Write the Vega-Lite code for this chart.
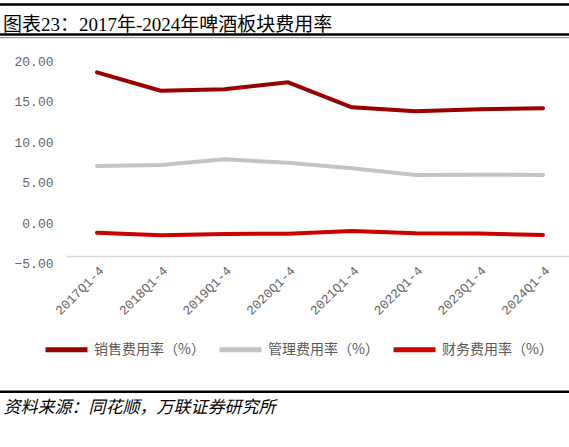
{
  "$schema": "https://vega.github.io/schema/vega-lite/v6.json",
  "autosize": "none",
  "width": 503,
  "height": 202.5,
  "padding": {"left": 66, "top": 61, "right": 0, "bottom": 183.5},
  "background": "white",
  "config": {"view": {"stroke": null}},
  "title": {
    "text": "图表23：2017年-2024年啤酒板块费用率",
    "anchor": "start",
    "frame": "group",
    "dx": -63,
    "offset": 0,
    "dy": 31.5,
    "font": "Liberation Serif, Noto Sans CJK SC",
    "fontSize": 19,
    "fontWeight": "normal",
    "color": "#000000"
  },
  "data": {
    "values": [
      {"period": "2017Q1-4", "series": "销售费用率（%）", "value": 18.6},
      {"period": "2018Q1-4", "series": "销售费用率（%）", "value": 16.33},
      {"period": "2019Q1-4", "series": "销售费用率（%）", "value": 16.5},
      {"period": "2020Q1-4", "series": "销售费用率（%）", "value": 17.37},
      {"period": "2021Q1-4", "series": "销售费用率（%）", "value": 14.28},
      {"period": "2022Q1-4", "series": "销售费用率（%）", "value": 13.79},
      {"period": "2023Q1-4", "series": "销售费用率（%）", "value": 14.04},
      {"period": "2024Q1-4", "series": "销售费用率（%）", "value": 14.16},
      {"period": "2017Q1-4", "series": "管理费用率（%）", "value": 7.04},
      {"period": "2018Q1-4", "series": "管理费用率（%）", "value": 7.16},
      {"period": "2019Q1-4", "series": "管理费用率（%）", "value": 7.86},
      {"period": "2020Q1-4", "series": "管理费用率（%）", "value": 7.44},
      {"period": "2021Q1-4", "series": "管理费用率（%）", "value": 6.75},
      {"period": "2022Q1-4", "series": "管理费用率（%）", "value": 5.93},
      {"period": "2023Q1-4", "series": "管理费用率（%）", "value": 5.97},
      {"period": "2024Q1-4", "series": "管理费用率（%）", "value": 5.93},
      {"period": "2017Q1-4", "series": "财务费用率（%）", "value": -1.2},
      {"period": "2018Q1-4", "series": "财务费用率（%）", "value": -1.52},
      {"period": "2019Q1-4", "series": "财务费用率（%）", "value": -1.36},
      {"period": "2020Q1-4", "series": "财务费用率（%）", "value": -1.32},
      {"period": "2021Q1-4", "series": "财务费用率（%）", "value": -0.99},
      {"period": "2022Q1-4", "series": "财务费用率（%）", "value": -1.27},
      {"period": "2023Q1-4", "series": "财务费用率（%）", "value": -1.31},
      {"period": "2024Q1-4", "series": "财务费用率（%）", "value": -1.48}
    ]
  },
  "layer": [
    {
      "data": {"values": [{}]},
      "mark": {"type": "rule", "color": "#000000", "strokeWidth": 2.5, "clip": false},
      "encoding": {
        "x": {"datum": -0.14, "type": "quantitative", "scale": {"domain": [0, 1]}, "axis": null},
        "x2": {"datum": 1.01},
        "y": {"datum": 26.98, "type": "quantitative"}
      }
    },
    {
      "data": {"values": [{}]},
      "mark": {"type": "rule", "color": "#000000", "strokeWidth": 2.5, "clip": false},
      "encoding": {
        "x": {"datum": -0.14, "type": "quantitative", "scale": {"domain": [0, 1]}, "axis": null},
        "x2": {"datum": 1.01},
        "y": {"datum": 23.27, "type": "quantitative"}
      }
    },
    {
      "data": {"values": [{}]},
      "mark": {"type": "rule", "color": "#7f7f7f", "strokeWidth": 1, "clip": false},
      "encoding": {
        "x": {"datum": -0.14, "type": "quantitative", "scale": {"domain": [0, 1]}, "axis": null},
        "x2": {"datum": 1.01},
        "y": {"datum": 22.88, "type": "quantitative"}
      }
    },
    {
      "data": {"values": [{}]},
      "mark": {"type": "rule", "color": "#000000", "strokeWidth": 2.5, "clip": false},
      "encoding": {
        "x": {"datum": -0.14, "type": "quantitative", "scale": {"domain": [0, 1]}, "axis": null},
        "x2": {"datum": 1.01},
        "y": {"datum": -20.83, "type": "quantitative"}
      }
    },
    {
      "mark": {"type": "line", "strokeWidth": 4, "strokeCap": "round", "strokeJoin": "round", "clip": false},
      "encoding": {
        "x": {
          "field": "period",
          "type": "ordinal",
          "scale": {"type": "point", "padding": 0.447, "align": 0.544},
          "axis": {
            "offset": -7.5,
            "domainColor": "#d9d9d9",
            "domainWidth": 1.5,
            "ticks": false,
            "labelAngle": -45,
            "labelPadding": 8,
            "labelFont": "Liberation Mono",
            "labelFontSize": 13,
            "labelColor": "#666666",
            "title": "资料来源：同花顺，万联证券研究所",
            "titleX": -63,
            "titleY": 151,
            "titleAlign": "left",
            "titleBaseline": "middle",
            "titleAngle": 0,
            "titleFont": "Noto Sans CJK SC",
            "titleFontSize": 17,
            "titleFontStyle": "italic",
            "titleFontWeight": "normal",
            "titleColor": "#000000"
          }
        },
        "y": {
          "field": "value",
          "type": "quantitative",
          "scale": {"domain": [-5, 20], "nice": false, "zero": false},
          "axis": {
            "values": [-5, 0, 5, 10, 15, 20],
            "format": ".2f",
            "domain": false,
            "ticks": false,
            "grid": false,
            "labelPadding": 13,
            "labelFont": "Liberation Mono",
            "labelFontSize": 13,
            "labelColor": "#666666",
            "title": null
          }
        },
        "color": {
          "field": "series",
          "type": "nominal",
          "scale": {
            "domain": ["销售费用率（%）", "管理费用率（%）", "财务费用率（%）"],
            "range": ["#9a0000", "#c4c4c4", "#cc0000"]
          },
          "legend": {
            "orient": "none",
            "legendX": -23,
            "legendY": 265,
            "direction": "horizontal",
            "title": null,
            "symbolType": "stroke",
            "symbolSize": 1764,
            "symbolStrokeWidth": 5,
            "labelFont": "Noto Sans CJK SC",
            "labelFontSize": 14,
            "labelColor": "#595959",
            "labelOffset": 4,
            "columnPadding": 4,
            "labelLimit": 300
          }
        }
      }
    }
  ],
  "resolve": {"scale": {"x": "independent"}, "axis": {"x": "independent"}}
}
